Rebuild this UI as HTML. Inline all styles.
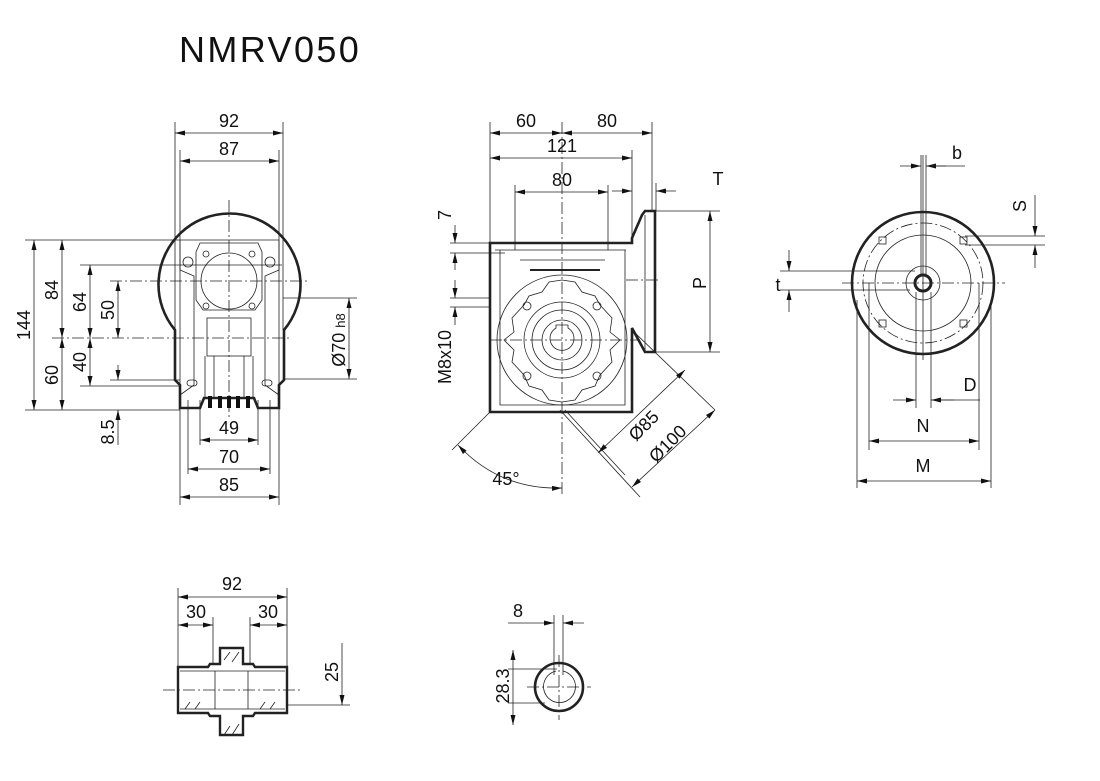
<!DOCTYPE html>
<html><head><meta charset="utf-8"><style>
html,body{margin:0;padding:0;background:#fff}
svg{display:block}
text{font-family:"Liberation Sans",Arial,sans-serif;fill:#111}
</style></head><body>
<svg width="1100" height="781" viewBox="0 0 1100 781" xmlns="http://www.w3.org/2000/svg">
<defs>
<marker id="a" viewBox="0 0 10 6" refX="10" refY="3" markerWidth="10" markerHeight="6" orient="auto-start-reverse" markerUnits="userSpaceOnUse"><path d="M0,0.5 L10,3 L0,5.5z" fill="#111"/></marker>
</defs>
<text x="179" y="62" font-size="36" letter-spacing="2.4" fill="#222">NMRV050</text>

<!-- VIEW 1 -->
<g stroke="#222" fill="none" stroke-width="0.8">
 <line x1="175" y1="122" x2="175" y2="330"/><line x1="283" y1="122" x2="283" y2="330"/>
 <line x1="180" y1="150" x2="180" y2="505"/><line x1="279" y1="150" x2="279" y2="505"/>
 <line x1="200" y1="400" x2="200" y2="445"/><line x1="258" y1="400" x2="258" y2="445"/>
 <line x1="188" y1="400" x2="188" y2="474"/><line x1="270" y1="400" x2="270" y2="474"/>
 <line x1="25" y1="240" x2="180" y2="240"/>
 <line x1="80" y1="265" x2="282" y2="265"/>
 <line x1="110" y1="281" x2="310" y2="281" stroke-dasharray="12,3,2,3"/>
 <line x1="52" y1="338" x2="292" y2="338" stroke-dasharray="12,3,2,3"/>
 <line x1="80" y1="386" x2="180" y2="386"/>
 <line x1="110" y1="380" x2="180" y2="380"/>
 <line x1="25" y1="410" x2="180" y2="410"/>
 <line x1="283" y1="298" x2="357" y2="298"/><line x1="283" y1="379" x2="357" y2="379"/>
 <line x1="229" y1="200" x2="229" y2="420" stroke-dasharray="12,3,2,3"/>
 <line x1="175" y1="133" x2="283" y2="133" marker-start="url(#a)" marker-end="url(#a)"/>
 <line x1="180" y1="161" x2="279" y2="161" marker-start="url(#a)" marker-end="url(#a)"/>
 <line x1="200" y1="440" x2="258" y2="440" marker-start="url(#a)" marker-end="url(#a)"/>
 <line x1="188" y1="469" x2="270" y2="469" marker-start="url(#a)" marker-end="url(#a)"/>
 <line x1="180" y1="497" x2="279" y2="497" marker-start="url(#a)" marker-end="url(#a)"/>
 <line x1="34" y1="240" x2="34" y2="410" marker-start="url(#a)" marker-end="url(#a)"/>
 <line x1="62" y1="240" x2="62" y2="338" marker-start="url(#a)" marker-end="url(#a)"/>
 <line x1="62" y1="338" x2="62" y2="410" marker-start="url(#a)" marker-end="url(#a)"/>
 <line x1="90" y1="265" x2="90" y2="338" marker-start="url(#a)" marker-end="url(#a)"/>
 <line x1="90" y1="338" x2="90" y2="386" marker-start="url(#a)" marker-end="url(#a)"/>
 <line x1="118" y1="281" x2="118" y2="338" marker-start="url(#a)" marker-end="url(#a)"/>
 <line x1="118" y1="365" x2="118" y2="380" marker-end="url(#a)"/>
 <line x1="118" y1="445" x2="118" y2="410" marker-end="url(#a)"/>
 <line x1="349" y1="298" x2="349" y2="379" marker-start="url(#a)" marker-end="url(#a)"/>
 <path d="M175,330 A71,71 0 1 1 284,330 L284,380 L279,385 L279,408 L258,408 L254,398 L204,398 L200,408 L180,408 L180,385 L175,380 Z" stroke-width="2.6"/>
 <path d="M180,240 L279,240 L279,270 L265,276 L265,385 L279,395 M180,240 L180,270 L194,276 L194,385 L180,395"/>
 <path d="M200,243 L258,243 L262,252 L262,300 L255,310 L203,310 L196,300 L196,252 Z"/>
 <circle cx="229" cy="281" r="28"/>
 <circle cx="188" cy="262" r="5"/><circle cx="270" cy="262" r="5"/>
 <circle cx="206" cy="254" r="3"/><circle cx="252" cy="254" r="3"/>
 <circle cx="206" cy="306" r="3"/><circle cx="252" cy="306" r="3"/>
 <rect x="207" y="318" width="44" height="38"/>
 <path d="M205,356 L205,398 M253,356 L253,398 M214,356 L214,398 M244,356 L244,398"/>
 <rect x="187" y="380" width="10" height="6" rx="3"/><rect x="262" y="380" width="10" height="6" rx="3"/>
</g>
<g fill="#111"><rect x="208" y="396" width="4" height="12"/><rect x="218" y="396" width="4" height="12"/><rect x="227" y="396" width="4" height="12"/><rect x="236" y="396" width="4" height="12"/><rect x="246" y="396" width="4" height="12"/></g>
<g font-size="18" text-anchor="middle">
 <text x="229" y="127">92</text><text x="229" y="155">87</text>
 <text x="229" y="434">49</text><text x="229" y="463">70</text><text x="229" y="491">85</text>
 <text transform="translate(30,325) rotate(-90)">144</text>
 <text transform="translate(58,290) rotate(-90)">84</text>
 <text transform="translate(58,375) rotate(-90)">60</text>
 <text transform="translate(86,302) rotate(-90)">64</text>
 <text transform="translate(86,362) rotate(-90)">40</text>
 <text transform="translate(114,310) rotate(-90)">50</text>
 <text transform="translate(114,432) rotate(-90)">8.5</text>
 <text transform="translate(345,340) rotate(-90)">Ø70 <tspan font-size="13">h8</tspan></text>
</g>

<!-- VIEW 2 -->
<g stroke="#222" fill="none" stroke-width="0.8">
 <line x1="490" y1="122" x2="490" y2="243"/><line x1="562" y1="122" x2="562" y2="495" stroke-dasharray="12,3,2,3"/>
 <line x1="652" y1="122" x2="652" y2="211"/><line x1="632" y1="150" x2="632" y2="243"/>
 <line x1="515" y1="185" x2="515" y2="250"/><line x1="608" y1="185" x2="608" y2="250"/>
 <line x1="656" y1="183" x2="656" y2="211"/>
 <line x1="490" y1="133" x2="562" y2="133" marker-start="url(#a)" marker-end="url(#a)"/>
 <line x1="562" y1="133" x2="652" y2="133" marker-start="url(#a)" marker-end="url(#a)"/>
 <line x1="490" y1="158" x2="632" y2="158" marker-start="url(#a)" marker-end="url(#a)"/>
 <line x1="515" y1="192" x2="608" y2="192" marker-start="url(#a)" marker-end="url(#a)"/>
 <line x1="612" y1="191" x2="632" y2="191" marker-end="url(#a)"/>
 <line x1="676" y1="191" x2="656" y2="191" marker-end="url(#a)"/>
 <line x1="656" y1="211" x2="720" y2="211"/><line x1="656" y1="352" x2="720" y2="352"/>
 <line x1="710" y1="211" x2="710" y2="352" marker-start="url(#a)" marker-end="url(#a)"/>
 <line x1="450" y1="243" x2="490" y2="243"/><line x1="450" y1="253" x2="505" y2="253"/>
 <line x1="455" y1="225" x2="455" y2="243" marker-end="url(#a)"/>
 <line x1="455" y1="270" x2="455" y2="253" marker-end="url(#a)"/>
 <line x1="450" y1="298" x2="490" y2="298"/><line x1="450" y1="307" x2="490" y2="307"/>
 <line x1="455" y1="280" x2="455" y2="298" marker-end="url(#a)"/>
 <line x1="455" y1="325" x2="455" y2="307" marker-end="url(#a)"/>
 <path d="M490,243 L632,243 L632,238 L642,215 L645,211 L655,211 L655,352 L645,352 L632,328 L632,412 L490,412 Z" stroke-width="2.6"/>
 <path d="M495,250 L626,250 M500,250 L500,405 L625,405 L625,250"/>
 <line x1="530" y1="270" x2="600" y2="270" stroke-width="2"/>
 <line x1="520" y1="260" x2="605" y2="260"/>
 <line x1="645" y1="215" x2="645" y2="350"/>
 <line x1="626" y1="280" x2="660" y2="280" stroke-dasharray="12,3,2,3"/>
 <circle cx="562" cy="340" r="65"/>
 <path d="M562,280 L575,282 L582,292 L595,296 L600,305 L612,318 L610,332 L620,340 L610,350 L612,362 L600,375 L595,386 L582,390 L575,400 L562,402 L549,400 L542,390 L529,386 L524,375 L512,362 L514,350 L504,340 L514,332 L512,318 L524,305 L529,296 L542,292 L549,282 Z"/>
 <circle cx="562" cy="340" r="38"/><circle cx="562" cy="340" r="30"/><circle cx="562" cy="340" r="20"/>
 <path d="M556,328 L556,325 L568,325 L568,328 A12,12 0 1 1 556,328 Z"/>
 <circle cx="527" cy="306" r="4"/><circle cx="597" cy="306" r="4"/><circle cx="527" cy="376" r="4"/><circle cx="597" cy="376" r="4"/>
 <line x1="490" y1="340" x2="640" y2="340" stroke-dasharray="12,3,2,3"/>
 <line x1="565" y1="410" x2="625" y2="475"/><line x1="632" y1="330" x2="715" y2="410"/>
 <line x1="560" y1="410" x2="640" y2="497"/>
 <line x1="598" y1="453" x2="685" y2="370" marker-start="url(#a)" marker-end="url(#a)"/>
 <line x1="632" y1="487" x2="715" y2="410" marker-start="url(#a)" marker-end="url(#a)"/>
 <line x1="490" y1="412" x2="452" y2="450"/>
 <path d="M458,445 Q500,490 562,488" marker-start="url(#a)" marker-end="url(#a)"/>
</g>
<g font-size="18" text-anchor="middle">
 <text x="526" y="127">60</text><text x="607" y="127">80</text>
 <text x="562" y="152">121</text><text x="562" y="186">80</text>
 <text x="718" y="185">T</text>
 <text transform="translate(706,283) rotate(-90)">P</text>
 <text transform="translate(451,215) rotate(-90)">7</text>
 <text transform="translate(451,357) rotate(-90)">M8x10</text>
 <text x="506" y="485">45°</text>
 <text transform="translate(648,430) rotate(-45)">Ø85</text>
 <text transform="translate(672,448) rotate(-45)">Ø100</text>
</g>

<!-- VIEW 3 -->
<g stroke="#222" fill="none" stroke-width="0.8">
 <circle cx="923" cy="283" r="71" stroke-width="2.6"/>
 <circle cx="923" cy="283" r="60" stroke-dasharray="12,3,2,3"/>
 <circle cx="923" cy="283" r="48"/>
 <circle cx="923" cy="283" r="17"/>
 <circle cx="923" cy="283" r="8" stroke-width="3"/>
 <rect x="879" y="237" width="7" height="7"/><rect x="960" y="237" width="7" height="7"/>
 <rect x="879" y="320" width="7" height="7"/><rect x="960" y="320" width="7" height="7"/>
 <line x1="842" y1="283" x2="1005" y2="283" stroke-dasharray="12,3,2,3"/>
 <line x1="923" y1="155" x2="923" y2="360"/>
 <line x1="921" y1="155" x2="921" y2="275"/><line x1="926" y1="155" x2="926" y2="275"/>
 <line x1="900" y1="166" x2="921" y2="166" marker-end="url(#a)"/>
 <line x1="946" y1="166" x2="926" y2="166" marker-end="url(#a)"/>
 <line x1="926" y1="166" x2="965" y2="166"/>
 <line x1="965" y1="236" x2="1045" y2="236"/><line x1="965" y1="245" x2="1045" y2="245"/>
 <line x1="1035" y1="195" x2="1035" y2="236" marker-end="url(#a)"/>
 <line x1="1035" y1="268" x2="1035" y2="245" marker-end="url(#a)"/>
 <line x1="780" y1="271" x2="915" y2="271"/><line x1="780" y1="290" x2="910" y2="290"/>
 <line x1="789" y1="250" x2="789" y2="271" marker-end="url(#a)"/>
 <line x1="789" y1="312" x2="789" y2="290" marker-end="url(#a)"/>
 <line x1="916" y1="292" x2="916" y2="408"/><line x1="931" y1="292" x2="931" y2="408"/>
 <line x1="893" y1="400" x2="916" y2="400" marker-end="url(#a)"/>
 <line x1="954" y1="400" x2="931" y2="400" marker-end="url(#a)"/>
 <line x1="931" y1="400" x2="980" y2="400"/>
 <line x1="869" y1="283" x2="869" y2="450"/><line x1="979" y1="283" x2="979" y2="450"/>
 <line x1="869" y1="441" x2="979" y2="441" marker-start="url(#a)" marker-end="url(#a)"/>
 <line x1="857" y1="300" x2="857" y2="488"/><line x1="991" y1="300" x2="991" y2="488"/>
 <line x1="857" y1="481" x2="991" y2="481" marker-start="url(#a)" marker-end="url(#a)"/>
</g>
<g font-size="18" text-anchor="middle">
 <text x="957" y="159">b</text>
 <text transform="translate(1026,206) rotate(-90)">S</text>
 <text x="778" y="291">t</text>
 <text x="970" y="391">D</text>
 <text x="923" y="432">N</text>
 <text x="923" y="472">M</text>
</g>

<!-- VIEW 4 -->
<g stroke="#222" fill="none" stroke-width="0.8">
 <line x1="178" y1="588" x2="178" y2="667"/><line x1="287" y1="588" x2="287" y2="667"/>
 <line x1="213" y1="617" x2="213" y2="665"/><line x1="250" y1="617" x2="250" y2="665"/>
 <line x1="178" y1="597" x2="287" y2="597" marker-start="url(#a)" marker-end="url(#a)"/>
 <line x1="178" y1="625" x2="213" y2="625" marker-start="url(#a)" marker-end="url(#a)"/>
 <line x1="250" y1="625" x2="287" y2="625" marker-start="url(#a)" marker-end="url(#a)"/>
 <line x1="287" y1="705" x2="350" y2="705"/>
 <line x1="342" y1="643" x2="342" y2="705" marker-end="url(#a)"/>
 <line x1="163" y1="690" x2="300" y2="690" stroke-dasharray="12,3,2,3"/>
 <path d="M178,667 L208,667 L210,664 L220,664 L220,648 L243,648 L243,664 L253,664 L255,667 L287,667 L287,713 L255,713 L253,716 L243,716 L243,735 L220,735 L220,716 L210,716 L208,713 L178,713 Z" stroke-width="2.4"/>
 <path d="M180,671 L285,671 M180,709 L285,709 M215,671 L215,709 M248,671 L248,709"/>
 <path d="M185,709 L190,702 M195,709 L200,702 M260,709 L265,702 M270,709 L275,702 M224,660 L230,652 M232,662 L239,652 M224,735 L230,726 M232,735 L239,724" />
</g>
<g font-size="18" text-anchor="middle">
 <text x="232" y="590">92</text><text x="196" y="618">30</text><text x="268" y="618">30</text>
 <text transform="translate(338,672) rotate(-90)">25</text>
</g>

<!-- VIEW 5 -->
<g stroke="#222" fill="none" stroke-width="0.8">
 <circle cx="559" cy="687" r="24" stroke-width="2.6"/>
 <path d="M556,671 A16,16 0 1 0 563,671"/>
 <line x1="527" y1="687" x2="591" y2="687" stroke-dasharray="12,3,2,3"/>
 <line x1="559" y1="655" x2="559" y2="720" stroke-dasharray="12,3,2,3"/>
 <line x1="554" y1="615" x2="554" y2="675"/><line x1="563" y1="615" x2="563" y2="675"/>
 <line x1="508" y1="623" x2="554" y2="623" marker-end="url(#a)"/>
 <line x1="584" y1="623" x2="563" y2="623" marker-end="url(#a)"/>
 <line x1="508" y1="669" x2="557" y2="669"/><line x1="508" y1="703" x2="545" y2="703"/>
 <line x1="513" y1="650" x2="513" y2="725" marker-start="url(#a)" marker-end="url(#a)"/>
</g>
<g font-size="18" text-anchor="middle">
 <text x="518" y="617">8</text>
 <text transform="translate(509,686) rotate(-90)">28.3</text>
</g>
</svg>
</body></html>
